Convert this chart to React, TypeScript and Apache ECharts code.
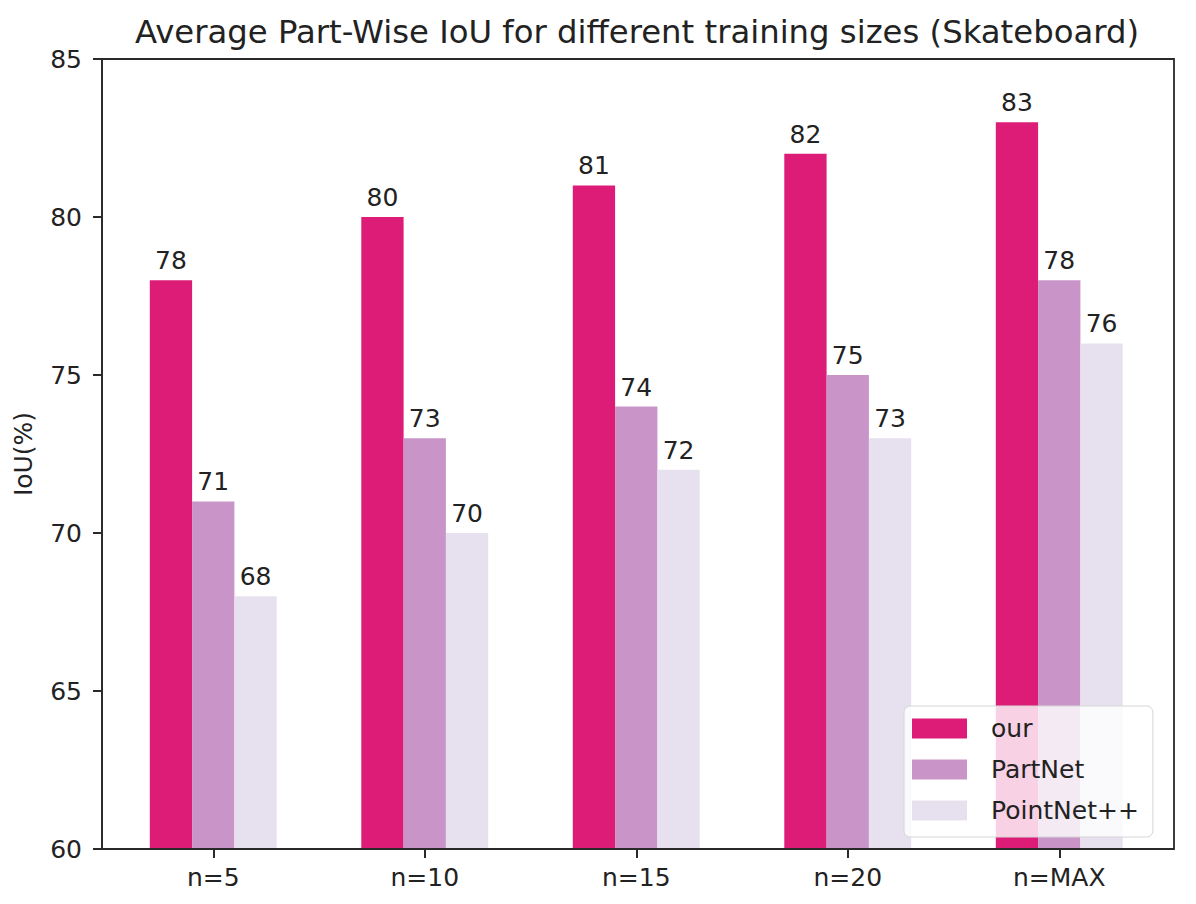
import React, { useEffect, useRef } from "react";
import * as echarts from "echarts";

const categories = ["n=5", "n=10", "n=15", "n=20", "n=MAX"];
const ourValues = [78, 80, 81, 82, 83];
const partNetValues = [71, 73, 74, 75, 78];
const pointNetValues = [68, 70, 72, 73, 76];
const seriesNames = ["our", "PartNet", "PointNet++"];
const colors = ["#DD1C77", "#C994C7", "#E7E1EF"];
const yTicks = { min: 60, max: 85, interval: 5 };

export default function App() {
  const ref = useRef<HTMLDivElement>(null);
  useEffect(() => {
    document.body.style.margin = "0";
    if (!ref.current) return;
    const chart = echarts.init(ref.current, null, { renderer: "svg" });
    const font = "DejaVu Sans";
    const textColor = "#222";
    const lineColor = "#2a2a2a";
    const allSeries = [ourValues, partNetValues, pointNetValues];
    chart.setOption({
      animation: false,
      backgroundColor: "#fff",
      textStyle: { fontFamily: font },
      graphic: [
        {
          type: "text",
          x: 637,
          y: 16,
          style: {
            text: "Average Part-Wise IoU for different training sizes (Skateboard)",
            fontFamily: font,
            fontSize: 32.3,
            fill: textColor,
            textAlign: "center",
            textVerticalAlign: "top",
          },
        },
        {
          type: "rect",
          silent: true,
          z: 5,
          shape: { x: 102, y: 59, width: 1072, height: 790 },
          style: { fill: "none", stroke: lineColor, lineWidth: 1.8 },
        },
      ],
      grid: {
        left: 107.5,
        right: 31,
        top: 59,
        bottom: 55,
      },
      legend: {
        orient: "vertical",
        left: 904,
        top: 706,
        padding: [10, 14, 14, 8],
        itemWidth: 55,
        itemHeight: 20,
        itemGap: 16,
        icon: "rect",
        z: 10,
        backgroundColor: "rgba(255,255,255,0.8)",
        borderColor: "#d6d6d6",
        borderWidth: 1,
        borderRadius: 6,
        data: seriesNames,
        textStyle: {
          fontFamily: font,
          fontSize: 25,
          color: textColor,
          lineHeight: 24,
          padding: [0, 0, 0, 19],
        },
      },
      xAxis: {
        type: "category",
        data: categories,
        boundaryGap: true,
        splitLine: { show: false },
        axisLine: { show: true, onZero: false, lineStyle: { color: lineColor, width: 1.8 } },
        axisTick: {
          show: true,
          alignWithLabel: true,
          length: 9,
          lineStyle: { color: lineColor, width: 2 },
        },
        axisLabel: {
          fontFamily: font,
          fontSize: 25,
          color: textColor,
          margin: 16,
        },
      },
      yAxis: {
        type: "value",
        min: yTicks.min,
        max: yTicks.max,
        interval: yTicks.interval,
        offset: 5.5,
        name: "IoU(%)",
        nameLocation: "middle",
        nameGap: 66,
        nameTextStyle: { fontFamily: font, fontSize: 25, color: textColor },
        splitLine: { show: false },
        axisLine: { show: true, onZero: false, lineStyle: { color: lineColor, width: 1.8 } },
        axisTick: { show: true, length: 9, lineStyle: { color: lineColor, width: 2 } },
        axisLabel: {
          fontFamily: font,
          fontSize: 25,
          color: textColor,
          margin: 20,
        },
      },
      series: allSeries.map((vals, i) => ({
        name: seriesNames[i],
        type: "bar",
        data: vals,
        barWidth: 42.3,
        barGap: "0%",
        itemStyle: { color: colors[i] },
        label: {
          show: true,
          position: "top",
          distance: 7,
          fontFamily: font,
          fontSize: 25,
          color: textColor,
        },
      })),
    });
    return () => chart.dispose();
  }, []);
  return <div ref={ref} style={{ width: 1196, height: 904 }} />;
}
